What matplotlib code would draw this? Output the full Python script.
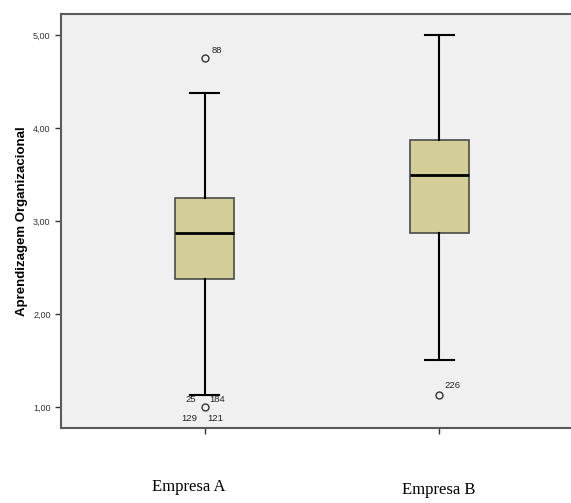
import matplotlib.pyplot as plt

# dados (SPSS boxplot)
grupos = ["Empresa A", "Empresa B"]
q1 = [2.375, 2.875]
mediana = [2.875, 3.5]
q3 = [3.25, 3.875]
whisk_low = [1.125, 1.5]
whisk_high = [4.375, 5.0]
outliers = [[4.75, 1.0], [1.125]]

# rótulos dos casos atípicos: (grupo, valor, texto, deslocamento x, deslocamento y)
casos = [
    (0, 4.75, "88", 0.03, 0.08),
    (0, 1.125, "25", -0.08, -0.04),
    (0, 1.125, "184", 0.02, -0.04),
    (0, 1.0, "129", -0.1, -0.12),
    (0, 1.0, "121", 0.01, -0.12),
    (1, 1.125, "226", 0.02, 0.11),
]
yticks = [1, 2, 3, 4, 5]

plt.rcParams["font.family"] = "Liberation Sans"

fig = plt.figure(figsize=(5.71, 5.03), dpi=100)
ax = fig.add_axes([61 / 571, 1 - 428 / 503, (583 - 61) / 571, (428 - 14) / 503])
ax.set_facecolor("#f0f0f0")

stats = []
for i in range(len(grupos)):
    stats.append({
        "q1": q1[i], "med": mediana[i], "q3": q3[i],
        "whislo": whisk_low[i], "whishi": whisk_high[i],
        "fliers": outliers[i], "label": grupos[i],
    })

pos = [1, 2]
ax.bxp(stats, positions=pos, widths=0.25, patch_artist=True, showfliers=True,
       boxprops=dict(facecolor="#d3ce97", edgecolor="#4a4a4a", linewidth=1.2),
       medianprops=dict(color="black", linewidth=2),
       whiskerprops=dict(color="black", linewidth=1.5),
       capprops=dict(color="black", linewidth=1.5),
       capwidths=0.125,
       flierprops=dict(marker="o", markerfacecolor="none", markeredgecolor="#333333",
                       markersize=5, markeredgewidth=1))

for g, v, txt, dx, dy in casos:
    ax.text(pos[g] + dx, v + dy, txt, fontsize=6.8, color="#222222",
            ha="left", va="center")

ax.set_xlim(0.388, 2.612)
ax.set_ylim(0.774, 5.226)
ax.set_yticks(yticks)
ax.set_yticklabels([f"{t:.2f}".replace(".", ",") for t in yticks], fontsize=6.5, color="#333333")
ax.set_xticks(pos)
ax.set_xticklabels([])
ax.tick_params(axis="both", length=4, width=1, color="#333333")
ax.set_ylabel("Aprendizagem Organizacional", fontsize=9.5, fontweight="bold", labelpad=4)

for s in ax.spines.values():
    s.set_color("#5a5a5a")
    s.set_linewidth(1.5)

# rótulos das categorias abaixo do gráfico
fig.text(189 / 571, 1 - 487 / 503, grupos[0], family="Liberation Serif", fontsize=12,
         ha="center", va="center")
fig.text(439 / 571, 1 - 490 / 503, grupos[1], family="Liberation Serif", fontsize=12,
         ha="center", va="center")

fig.savefig("out.png", dpi=100)
